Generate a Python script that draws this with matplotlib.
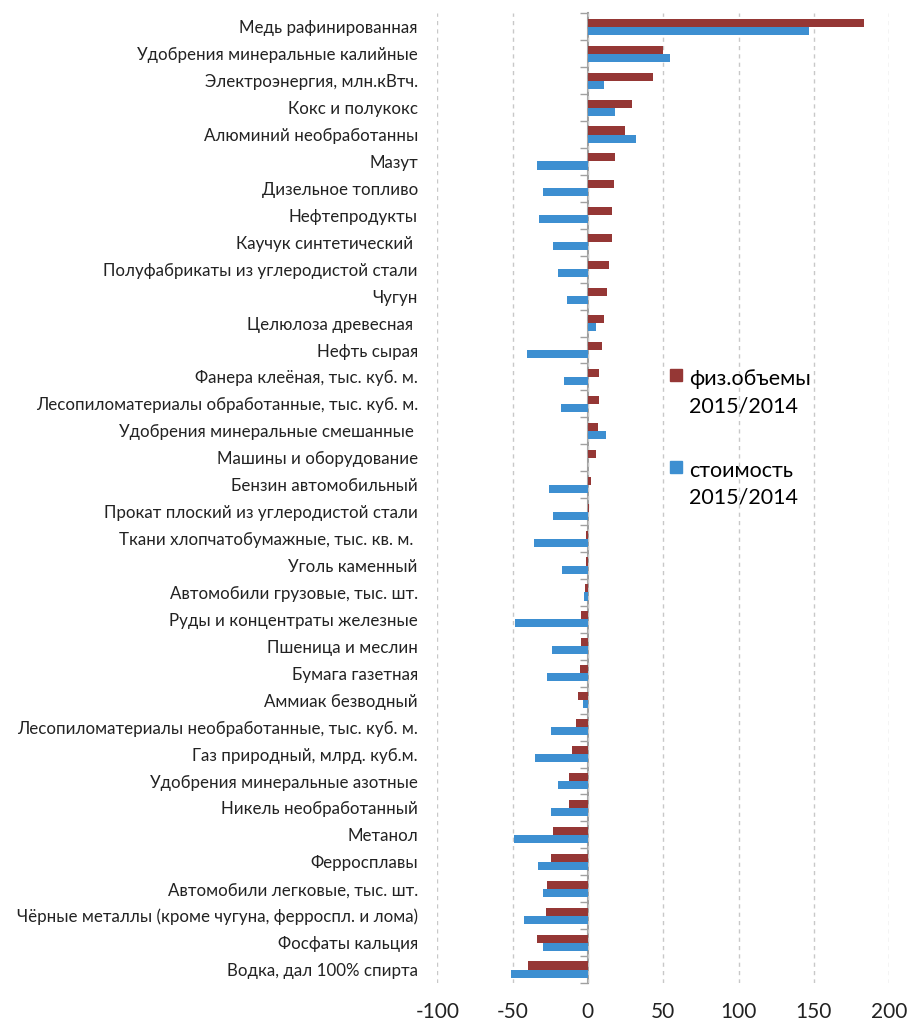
import numpy as np
import matplotlib.pyplot as plt
from matplotlib.patches import Patch, Rectangle
from matplotlib.legend_handler import HandlerPatch

plt.rcParams['font.family'] = ['Lato', 'DejaVu Sans']

categories = [
    'Медь рафинированная',
    'Удобрения минеральные калийные',
    'Электроэнергия, млн.кВтч.',
    'Кокс и полукокс',
    'Алюминий необработанны',
    'Мазут',
    'Дизельное топливо',
    'Нефтепродукты',
    'Каучук синтетический ',
    'Полуфабрикаты из углеродистой стали',
    'Чугун',
    'Целюлоза древесная ',
    'Нефть сырая',
    'Фанера клеёная, тыс. куб. м.',
    'Лесопиломатериалы обработанные, тыс. куб. м.',
    'Удобрения минеральные смешанные ',
    'Машины и оборудование',
    'Бензин автомобильный',
    'Прокат плоский из углеродистой стали',
    'Ткани хлопчатобумажные, тыс. кв. м. ',
    'Уголь каменный',
    'Автомобили грузовые, тыс. шт.',
    'Руды и концентраты железные',
    'Пшеница и меслин',
    'Бумага газетная',
    'Аммиак безводный',
    'Лесопиломатериалы необработанные, тыс. куб. м.',
    'Газ природный, млрд. куб.м.',
    'Удобрения минеральные азотные',
    'Никель необработанный',
    'Метанол',
    'Ферросплавы',
    'Автомобили легковые, тыс. шт.',
    'Чёрные металлы (кроме чугуна, ферроспл. и лома)',
    'Фосфаты кальция',
    'Водка, дал 100% спирта',
]

phys = [183.3, 49.8, 43.0, 29.5, 24.4, 17.8, 17.0, 16.3, 16.3, 14.1,
        12.6, 11.0, 9.5, 7.3, 7.3, 6.6, 5.3, 2.2, 0.9, -1.3,
        -1.3, -2.2, -4.4, -4.4, -5.1, -6.6, -8.1, -10.4, -12.6, -12.6,
        -22.9, -24.2, -27.3, -28.0, -33.9, -39.9]

cost = [147.1, 54.6, 11.0, 17.8, 31.9, -33.9, -29.5, -32.4, -22.9, -19.8,
        -13.9, 5.3, -40.3, -16.1, -17.6, 11.9, 0.0, -25.8, -22.9, -35.5,
        -17.0, -2.9, -48.7, -23.6, -27.3, -3.5, -24.2, -34.8, -19.8, -24.2,
        -49.3, -33.3, -29.5, -42.7, -29.5, -50.9]

xticks = [-100, -50, 0, 50, 100, 150, 200]
xticklabels = ['-100', '-50', '0', '50', '100', '150', '200']

red = '#953735'
blue = '#3d8fd1'

fig = plt.figure(figsize=(9.11, 10.24), dpi=100)
ax = fig.add_axes([0.48, 0.04, 0.496, 0.947])

y = np.arange(len(categories))
ax.barh(y - 0.15, phys, height=0.3, color=red, zorder=2)
ax.barh(y + 0.15, cost, height=0.3, color=blue, zorder=2)

ax.set_xlim(-100, 200)
ax.set_ylim(len(categories) - 0.5, -0.5)
ax.set_xticks(xticks)
ax.set_xticklabels(xticklabels, fontsize=15, color='#222222')
ax.set_yticks(y)
ax.set_yticklabels(categories, fontsize=12.2, color='#222222')
ax.tick_params(axis='both', length=0)
ax.tick_params(axis='y', pad=14)
ax.tick_params(axis='x', pad=14)
ax.grid(axis='x', linestyle=(0, (3, 3)), color='#c8c8c8', linewidth=1)
ax.set_axisbelow(True)
for s in ax.spines.values():
    s.set_visible(False)

# vertical axis at zero with category separator ticks
sec = ax.secondary_yaxis(1 / 3)
sec.set_yticks(np.arange(len(categories) + 1) - 0.5)
sec.set_yticklabels([])
sec.tick_params(axis='y', direction='out', length=6, color='#a0a0a0', width=1)
sec.spines['left'].set_color('#a0a0a0')
sec.spines['left'].set_linewidth(1.5)


# small square aligned with the first line of the label
def top_square(legend, orig_handle, xdescent, ydescent, width, height, fontsize):
    s = width
    return Rectangle((-xdescent, -ydescent + height - s + 0.25 * fontsize), s, s)


handles = [Patch(color=red), Patch(color=blue)]
leg = ax.legend(handles, ['физ.объемы\n2015/2014', 'стоимость\n2015/2014'],
                loc='upper left', bbox_to_anchor=(0.472, 0.653), frameon=False,
                fontsize=15.5, handlelength=0.55, handleheight=2.38,
                handletextpad=0.35, labelspacing=2.05,
                handler_map={Patch: HandlerPatch(patch_func=top_square)})
for t in leg.get_texts():
    t.set_linespacing(1.45)

fig.savefig('out.png', dpi=100)
